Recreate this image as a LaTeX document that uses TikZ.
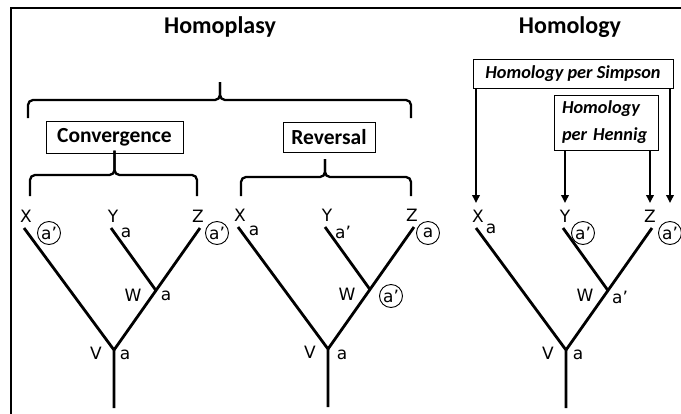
\documentclass[tikz,border=0pt]{standalone}
\usepackage{fontspec}
\setmainfont{DejaVu Sans}
\newfontfamily\titlefont{Carlito}
\newfontfamily\labelfont{DejaVu Sans}
\usetikzlibrary{arrows.meta}

\tikzset{
  heading/.style={font=\titlefont\bfseries\fontsize{24}{28}\selectfont, inner sep=0pt},
  groupbox/.style={draw, line width=1pt, inner sep=0pt,
    font=\titlefont\bfseries\fontsize{21.5}{26}\selectfont},
  refbox/.style={draw, line width=1pt, inner sep=0pt,
    font=\titlefont\bfseries\itshape\fontsize{18.3}{27}\selectfont},
  branch/.style={line width=2.8pt},
  bracket/.style={line width=2.3pt, rounded corners=5pt},
  frameline/.style={line width=2.3pt},
  pointer/.style={line width=1.8pt, -{Triangle[length=8pt,width=7.5pt]}},
  taxon/.style={font=\labelfont\fontsize{17}{20}\selectfont, inner sep=0pt},
  trait/.style={font=\labelfont\fontsize{17}{20}\selectfont, inner sep=0pt},
  changed/.style={trait, draw, circle, line width=0.9pt, minimum size=23pt},
}

% #1 prefix for names, #2 position of the basal node V, #3 character states
\newcommand{\phylotree}[3]{%
  \begin{scope}[shift={#2}]
    \coordinate (#1X) at (-90,-122);
    \coordinate (#1Y) at (-3,-122);
    \coordinate (#1Z) at (86,-122);
    \coordinate (#1W) at (42,-59.5);
    \coordinate (#1V) at (0,0);
    \coordinate (#1R) at (0,58);
    \draw[branch] (#1X) -- (#1V) -- (#1R);
    \draw[branch] (#1Z) -- (#1V);
    \draw[branch] (#1Y) -- (#1W);
    \node[taxon] (#1Xl) at (-88,-134) {X};
    \node[taxon] (#1Yl) at (-1,-134) {Y};
    \node[taxon] (#1Zl) at (84,-134) {Z};
    \node[taxon] (#1Wl) at (19,-55) {W};
    \node[taxon] (#1Vl) at (-18,3) {V};
    #3
  \end{scope}}

\begin{document}
\begin{tikzpicture}[x=1pt, y=-1pt]
  \useasboundingbox (0,0) rectangle (681,413);
  \clip (0,0) rectangle (681,413);

  % outer frame (top and left edges)
  \draw[frameline] (11,420) -- (11,8) -- (690,8);

  % headings
  \node[heading] (homoplasy) at (220,27) {Homoplasy};
  \node[heading] (homology) at (570,27) {Homology};

  % homoplasy classification
  \node[groupbox, minimum width=137pt, minimum height=32pt] (conv) at (114.5,137) {Convergence};
  \node[groupbox, minimum width=92pt, minimum height=30pt] (rev) at (329,137) {Reversal};

  \coordinate (topTip) at (220,82);
  \draw[bracket] (28,118) -- (28,100) -- (topTip |- 0,100) -- (topTip);
  \draw[bracket] (topTip) -- (topTip |- 0,100) -- (411,100) -- (411,118);

  \coordinate (convTip) at (conv.south);
  \draw[bracket] (30,196) -- (30,175) -- (convTip |- 0,175) -- ([yshift=3pt]convTip);
  \draw[bracket] ([yshift=3pt]convTip) -- (convTip |- 0,175) -- (197,175) -- (197,196);

  \coordinate (revTip) at (325,159);
  \draw[bracket] (241,196) -- (241,177) -- (revTip |- 0,177) -- (revTip);
  \draw[bracket] (revTip) -- (revTip |- 0,177) -- (411,177) -- (411,196);

  % homology definitions
  \node[refbox, minimum width=200pt, minimum height=29pt] (simpson) at (573,73.5) {Homology per Simpson};
  \node[refbox, minimum width=104pt, minimum height=55pt, align=left,
        text width=88pt] (hennig) at (606,122.5) {Homology\\per Hennig};

  \coordinate (s1) at (476,203);
  \coordinate (s2) at (670,203);
  \coordinate (h1) at (565,203);
  \coordinate (h2) at (650,203);
  \draw[pointer] (simpson.south -| s1) -- (s1);
  \draw[pointer] (simpson.south -| s2) -- (s2);
  \draw[pointer] (hennig.south -| h1) -- (h1);
  \draw[pointer] (hennig.south -| h2) -- (h2);

  % convergence tree
  \phylotree{c}{(114,350)}{
    \node[changed] (cXs) at (-65,-117) {a’};
    \node[trait]   (cYs) at (12,-117) {a};
    \node[changed] (cZs) at (103,-117) {a’};
    \node[trait]   (cWs) at (52,-54) {a};
    \node[trait]   (cVs) at (11,5) {a};
  }

  % reversal tree
  \phylotree{r}{(328,349)}{
    \node[trait]   (rXs) at (-74,-118) {a};
    \node[trait]   (rYs) at (15,-117) {a’};
    \node[changed] (rZs) at (100,-116) {a};
    \node[changed] (rWs) at (63,-53) {a’};
    \node[trait]   (rVs) at (14,6) {a};
  }

  % homology tree
  \phylotree{h}{(566,350)}{
    \node[trait]   (hXs) at (-75,-121) {a};
    \node[changed] (hYs) at (17,-117) {a’};
    \node[changed] (hZs) at (104,-117) {a’};
    \node[trait]   (hWs) at (54,-53) {a’};
    \node[trait]   (hVs) at (12,5) {a};
  }
\end{tikzpicture}
\end{document}
